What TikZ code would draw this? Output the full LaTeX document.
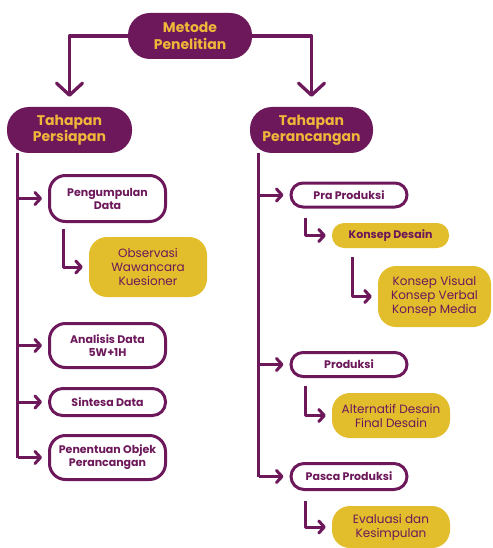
\documentclass[tikz,border=0pt]{standalone}
\usepackage{fontspec}
\setmainfont{Poppins}
\usetikzlibrary{arrows.meta}
\definecolor{plum}{RGB}{108,24,90}
\definecolor{mustard}{RGB}{226,189,44}
\definecolor{amber}{RGB}{240,182,58}
\tikzset{
  hd/.style={rounded corners=22pt,fill=plum,text=amber,font=\fontsize{14}{16.5}\selectfont\bfseries,align=center,inner sep=0pt,minimum height=46pt},
  st/.style={rounded corners=16pt,draw=plum,line width=3pt,fill=white,text=plum,font=\fontsize{11}{13}\selectfont\bfseries,align=center,inner sep=0pt,minimum width=116pt},
  sub/.style={rounded corners=18pt,fill=mustard,text=plum,font=\fontsize{12}{14}\selectfont,align=center,inner sep=0pt},
  spine/.style={draw=plum,line width=3pt},
  arr/.style={draw=plum,line width=3pt,line join=round,-{Straight Barb[round,length=5.5pt,width=12pt]},shorten >=6pt},
  bigarr/.style={draw=plum,line width=3.3pt,line join=round,-{Straight Barb[round,length=12pt,width=26pt]},shorten >=10pt},
}
\begin{document}
\begin{tikzpicture}[x=1pt,y=-1pt]
\useasboundingbox (0,0) rectangle (492,548);
% main heading and the two stages
\node[hd,minimum width=124pt] (mp) at (190,36) {Metode\\Penelitian};
\node[hd,minimum width=125pt] (tp) at (69.5,130) {Tahapan\\Persiapan};
\node[hd,minimum width=123pt] (tr) at (311.5,130) {Tahapan\\Perancangan};
\draw[bigarr] (mp.west) -| (tp);
\draw[bigarr] (mp.east) -| (tr);
% preparation
\node[st,minimum height=46pt] (pd) at (107.5,198.5) {Pengumpulan\\Data};
\node[sub,minimum width=118pt,minimum height=60pt] (obs) at (148,267) {Observasi\\Wawancara\\Kuesioner};
\node[st,minimum height=44pt] (ad) at (107.5,345.5) {Analisis Data\\5W+1H};
\node[st,minimum height=27pt,rounded corners=13pt] (sd) at (107.5,402) {Sintesa Data};
\node[st,minimum height=44pt] (po) at (107.5,457.5) {Penentuan Objek\\Perancangan};
\coordinate (ls) at ([xshift=11pt]tp.south west);
\draw[spine] (ls) -- (ls |- po.west);
\foreach \b in {pd,ad,sd,po}
  \draw[arr] (ls |- \b.west) -- (\b.west);
\draw[arr] ([xshift=15pt,yshift=-6pt]pd.south west) |- (obs.west);
% design
\node[st,minimum height=24pt,rounded corners=12pt] (pra) at (349,195) {Pra Produksi};
\node[sub,minimum width=117pt,minimum height=25pt,rounded corners=12pt,font=\fontsize{11}{13}\selectfont\bfseries] (kd) at (390.5,235.5) {Konsep Desain};
\node[sub,minimum width=113pt,minimum height=61pt] (kv) at (434.5,296.5) {Konsep Visual\\Konsep Verbal\\Konsep Media};
\node[st,minimum height=24pt,rounded corners=12pt] (pro) at (349,364.5) {Produksi};
\node[sub,minimum width=118pt,minimum height=45pt] (alt) at (391,415.5) {Alternatif Desain\\Final Desain};
\node[st,minimum height=26pt,rounded corners=13pt] (pas) at (349,476.5) {Pasca Produksi};
\node[sub,minimum width=118pt,minimum height=42pt] (eva) at (391,527) {Evaluasi dan\\Kesimpulan};
\coordinate (rs) at ([xshift=9pt]tr.south west);
\draw[spine] (rs) -- (rs |- pas.west);
\foreach \b in {pra,pro,pas}
  \draw[arr] (rs |- \b.west) -- (\b.west);
\draw[arr] ([xshift=16pt,yshift=-9pt]pra.south west) |- (kd.west);
\draw[arr] ([xshift=21pt,yshift=-9pt]kd.south west) |- (kv.west);
\draw[arr] ([xshift=16pt,yshift=-8pt]pro.south west) |- (alt.west);
\draw[arr] ([xshift=16pt,yshift=-10pt]pas.south west) |- (eva.west);
\end{tikzpicture}
\end{document}
